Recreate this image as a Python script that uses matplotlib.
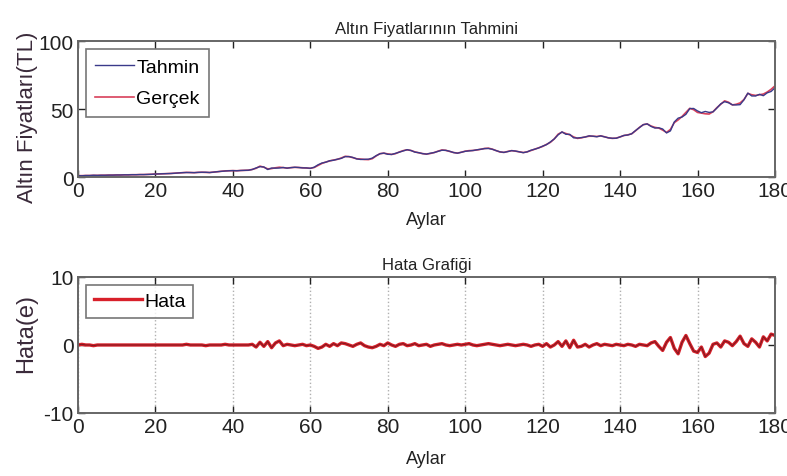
import matplotlib
matplotlib.use("Agg")
import matplotlib.pyplot as plt
import numpy as np

aylar = np.arange(0, 181)

gercek = [
    1.0, 1.0, 1.1, 1.1, 1.2, 1.2, 1.3, 1.3, 1.4, 1.4,
    1.5, 1.5, 1.6, 1.6, 1.7, 1.7, 1.8, 1.8, 1.9, 2.0,
    2.2, 2.3, 2.4, 2.5, 2.6, 2.8, 3.0, 3.2, 3.4, 3.3,
    3.2, 3.4, 3.5, 3.4, 3.3, 3.6, 3.9, 4.2, 4.5, 4.6,
    4.7, 4.6, 4.8, 4.9, 5.0, 5.6, 6.4, 8.0, 7.2, 6.0,
    6.2, 6.8, 7.2, 6.9, 6.6, 6.9, 7.1, 7.0, 6.8, 6.6,
    6.4, 7.0, 8.5, 10.0, 11.0, 11.8, 12.5, 13.0, 14.0, 15.2,
    15.0, 14.2, 13.4, 13.2, 12.9, 12.8, 13.5, 15.5, 17.2, 17.5,
    17.0, 16.6, 17.2, 18.4, 19.4, 20.0, 19.5, 18.5, 17.8, 17.2,
    16.9, 17.3, 18.0, 19.0, 19.9, 19.6, 18.8, 18.0, 17.6, 18.2,
    19.0, 19.4, 19.5, 19.9, 20.4, 21.0, 21.2, 20.5, 19.4, 18.4,
    18.1, 18.8, 19.4, 19.0, 18.5, 18.0, 18.5, 19.5, 20.5, 21.5,
    22.5, 24.0, 25.5, 28.0, 31.5, 33.0, 32.0, 31.0, 29.5, 28.4,
    28.8, 29.5, 30.0, 30.0, 29.8, 30.2, 29.6, 28.8, 28.4, 28.6,
    29.5, 30.5, 31.0, 31.8, 34.0, 36.5, 38.5, 39.0, 37.5, 36.5,
    36.0, 34.5, 32.8, 35.0, 40.0, 42.0, 44.5, 47.5, 50.5, 49.5,
    47.5, 47.0, 46.5, 46.3, 48.0, 51.0, 53.5, 56.0, 55.0, 53.0,
    53.5, 54.5, 57.0, 61.5, 60.5, 60.0, 60.5, 61.0, 62.5, 64.5,
    67.0,
]

#error (hata) per month
hata = [
    0.0, 0.1, 0.0, 0.0, -0.1, 0.0, 0.0, 0.0, 0.0, 0.0,
    0.0, 0.0, 0.0, 0.0, 0.0, 0.0, 0.0, 0.0, 0.0, 0.0,
    0.0, 0.0, 0.0, 0.0, 0.0, 0.0, 0.0, 0.0, 0.1, 0.0,
    0.0, 0.0, 0.0, -0.1, 0.0, 0.0, 0.0, 0.0, 0.1, 0.0,
    0.0, 0.0, 0.0, 0.0, 0.0, 0.1, -0.3, 0.4, -0.2, 0.5,
    -0.4, 0.3, 0.6, -0.1, 0.1, 0.0, -0.1, 0.0, 0.1, -0.1,
    0.0, -0.2, -0.5, -0.3, 0.1, -0.2, 0.2, -0.1, 0.3, 0.2,
    0.0, -0.2, 0.1, 0.3, -0.1, -0.3, -0.4, -0.2, 0.1, -0.1,
    0.3, 0.0, -0.2, 0.1, 0.2, -0.1, 0.0, 0.2, -0.1, 0.0,
    0.1, -0.2, 0.0, 0.1, 0.2, 0.0, -0.1, 0.0, 0.1, 0.0,
    0.1, 0.2, 0.0, -0.1, 0.0, 0.1, 0.2, 0.1, 0.0, -0.1,
    0.0, 0.1, 0.0, -0.1, 0.0, 0.1, 0.0, -0.2, 0.0, 0.1,
    -0.2, 0.2, -0.3, 0.0, 0.5, -0.2, 0.6, -0.4, 0.7, -0.3,
    -0.2, 0.1, -0.3, 0.0, 0.2, -0.1, 0.1, 0.0, -0.1, 0.1,
    0.0, -0.1, 0.1, 0.0, -0.2, 0.1, 0.0, -0.1, 0.3, 0.5,
    -0.2, -0.8, 0.4, 1.1, -0.5, -1.3, 0.4, 1.4, 0.2, -0.9,
    -1.1, -0.3, -1.7, -1.2, 0.1, 0.3, -0.3, 0.6, 0.4, -0.1,
    0.5, 1.3, 0.2, -0.2, 0.9, 0.4, -0.3, 1.2, 0.6, 1.6,
    1.4,
]

xticks = [0, 20, 40, 60, 80, 100, 120, 140, 160, 180]

gercek = np.array(gercek)
hata = np.array(hata)
tahmin = gercek - hata

plt.rcParams['font.family'] = ['Liberation Sans', 'DejaVu Sans']
plt.rcParams['axes.unicode_minus'] = False

fig = plt.figure(figsize=(7.87, 4.77), dpi=100)
ax1 = fig.add_axes([0.0991, 0.6268, 0.8856, 0.2851])
ax2 = fig.add_axes([0.0991, 0.1321, 0.8856, 0.2851])

#style both axes like matlab
for ax in (ax1, ax2):
    ax.set_xlim(0, 180)
    ax.set_xticks(xticks)
    ax.tick_params(direction='in', length=5, top=True, right=True,
                   labelsize=15, colors='#222222', width=1, pad=3)
    for s in ax.spines.values():
        s.set_color('#666666')
        s.set_linewidth(1.4)

ax1.plot(aylar, gercek, color='#d8405a', lw=1.2, label='Gerçek')
ax1.plot(aylar, tahmin, color='#3a3a8a', lw=1.0, label='Tahmin')
ax1.set_ylim(0, 100)
ax1.set_yticks([0, 50, 100])
ax1.set_title('Altın Fiyatlarının Tahmini', fontsize=12, color='#222222', pad=6)
ax1.set_xlabel('Aylar', fontsize=13, color='#222222', labelpad=8)
ax1.set_ylabel('Altın Fiyatları(TL)', fontsize=16, color='#3a2a3a')
ax1.yaxis.set_label_coords(-0.057, 0.45)
h, l = ax1.get_legend_handles_labels()
leg1 = ax1.legend([h[1], h[0]], [l[1], l[0]], loc='upper left', fontsize=14,
                  fancybox=False, edgecolor='#555555', handlelength=2.0,
                  borderpad=0.5, labelspacing=0.7, handletextpad=0.1,
                  borderaxespad=0.4)
leg1.get_frame().set_linewidth(1.2)

ax2.grid(axis='x', linestyle=':', color='#b0b0b0', lw=1)
ax2.plot(aylar, hata, color='#d8202a', lw=2.4, label='Hata')
ax2.plot(aylar, hata, color='#7a1a20', lw=0.7)
ax2.set_ylim(-10, 10)
ax2.set_yticks([-10, 0, 10])
ax2.set_title('Hata Grafiği', fontsize=12, color='#222222', pad=6)
ax2.set_xlabel('Aylar', fontsize=13, color='#222222', labelpad=10)
ax2.set_ylabel('Hata(e)', fontsize=17, color='#3a2a3a')
ax2.yaxis.set_label_coords(-0.058, 0.59)
leg2 = ax2.legend(loc='upper left', fontsize=14, fancybox=False,
                  edgecolor='#555555', handlelength=2.5, borderpad=0.4,
                  handletextpad=0.1, borderaxespad=0.4)
leg2.get_frame().set_linewidth(1.2)

fig.savefig('out.png', dpi=100)
